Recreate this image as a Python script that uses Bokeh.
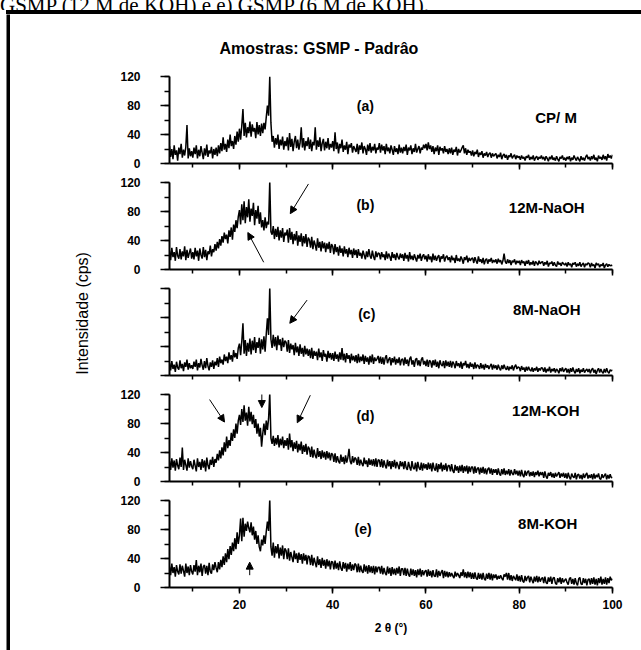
import math
from bokeh.plotting import figure
from bokeh.layouts import column, row
from bokeh.models import (Range1d, SingleIntervalTicker, Label, Arrow, NormalHead,
                          ColumnDataSource, CustomJSTickFormatter, Div)
from bokeh.embed import file_html
from bokeh.resources import INLINE

# ---------------- data (2theta grid: rows of 5 degrees, 0.25 degree step) ----------------
X_FIRST = 5.0
ROW_SPAN = 5.0
STEP = 0.25

cp_m = [
    [24,9,20,6,25,12,18,4,22,13,27,8,19,11,23,53,7,21,10,17],
    [8,22,13,25,7,19,10,24,15,6,21,11,26,9,18,14,23,7,20,12],
    [22,10,25,14,28,17,36,19,27,16,33,21,40,24,31,20,38,26,44,30],
    [48,33,52,75,38,56,36,50,42,58,37,54,44,49,35,57,40,53,38,55],
    [42,56,47,64,80,66,120,56,30,38,22,35,26,40,20,33,25,37,19,31],
    [24,36,18,42,23,34,17,30,38,21,33,19,28,50,22,35,18,31,24,36],
    [20,33,17,30,25,50,19,32,23,36,17,28,34,18,30,21,35,19,27,22],
    [31,17,43,20,29,14,27,21,33,16,25,19,30,13,26,22,28,15,24,20],
    [16,27,13,25,19,29,14,24,20,12,26,17,28,15,23,18,27,14,22,19],
    [28,15,26,18,24,13,27,17,22,14,25,19,12,24,16,21,13,26,15,22],
    [14,23,17,26,12,22,18,25,13,21,16,27,15,20,24,14,22,19,26,21],
    [27,18,29,20,25,16,24,13,22,17,25,12,23,18,21,14,24,16,20,13],
    [21,14,22,12,19,16,23,11,20,15,18,22,25,14,21,12,19,15,17,11],
    [18,10,16,13,19,9,15,12,17,8,14,11,16,9,13,15,8,14,10,12],
    [14,7,12,9,15,6,11,13,8,12,5,11,9,14,7,10,12,6,11,8],
    [10,5,11,7,9,4,10,8,12,5,9,6,11,4,8,10,5,9,7,11],
    [6,9,4,10,7,3,9,6,11,5,8,4,10,6,3,9,7,11,5,8],
    [4,9,6,10,3,8,5,11,7,4,9,6,3,10,5,8,4,9,12,6],
    [9,4,10,6,12,5,8,3,11,7,9,5,12,6,10,4,13,8,11,7],
    [12],
]

naoh_12m = [
    [26,13,30,17,24,12,31,19,15,28,14,25,18,32,13,27,16,23,29,15],
    [24,14,30,18,26,12,29,20,15,31,17,27,13,25,21,33,18,28,24,35],
    [26,38,29,42,33,46,37,51,42,48,36,54,45,58,41,62,52,68,57,73],
    [82,62,90,68,94,64,86,72,97,66,84,74,92,61,82,70,88,63,79,58],
    [68,54,72,57,66,62,122,52,48,60,42,56,45,59,40,54,44,57,38,51],
    [47,55,37,57,41,52,35,49,40,53,33,47,38,50,32,46,36,49,31,44],
    [41,30,45,28,40,34,26,43,30,38,25,39,29,37,24,36,28,38,23,35],
    [32,21,35,24,31,19,33,23,29,18,32,22,28,17,30,21,27,16,29,20],
    [27,16,28,19,23,15,26,20,14,25,17,28,19,15,26,18,13,25,17,23],
    [22,14,24,17,21,13,25,15,22,18,12,24,16,21,13,23,17,14,22,16],
    [21,12,23,15,20,11,24,14,19,13,21,16,11,20,15,22,12,18,21,14],
    [19,11,21,14,18,10,22,13,19,12,17,20,10,18,15,21,11,17,19,13],
    [17,10,19,13,16,9,20,12,15,11,18,14,8,17,13,19,10,16,12,15],
    [16,9,17,12,8,18,11,14,9,16,7,13,15,8,14,11,16,9,13,10],
    [14,8,15,10,13,7,12,22,11,8,14,9,13,6,12,10,14,7,12,9],
    [12,6,13,9,11,5,12,8,13,6,10,7,12,5,11,9,6,12,8,10],
    [11,5,10,7,12,4,9,8,11,5,10,6,4,11,7,9,5,10,8,6],
    [9,4,10,6,8,3,9,7,10,4,8,5,10,4,7,9,3,8,6,9],
    [8,3,9,5,7,2,9,6,8,3,7,5,9,2,6,8,4,7,5,6],
    [5],
]

naoh_8m = [
    [17,7,20,9,15,5,19,11,8,21,10,16,6,18,12,22,8,17,10,14],
    [9,19,12,22,7,17,11,23,14,8,20,10,24,13,7,18,12,21,9,19],
    [14,24,12,26,17,22,15,29,20,26,17,32,22,28,19,35,25,31,23,38],
    [44,28,47,72,30,49,27,45,33,51,29,48,35,53,31,46,38,52,30,50],
    [36,54,33,57,79,56,122,50,38,56,40,53,35,55,42,50,34,52,39,48],
    [46,33,49,31,44,36,42,28,45,32,40,27,43,30,38,26,41,29,37,27],
    [36,24,38,23,34,27,33,21,37,25,32,20,35,26,30,19,34,24,31,22],
    [31,20,33,23,29,19,32,22,38,21,30,18,31,23,28,17,30,21,27,19],
    [28,17,30,18,26,20,29,16,27,19,25,15,27,18,29,16,25,20,23,27],
    [17,26,16,25,15,24,28,17,22,25,14,24,18,26,15,23,17,25,14,22],
    [23,14,25,16,22,13,23,26,15,21,12,22,24,14,21,13,22,25,15,20],
    [13,22,12,21,19,11,21,14,22,12,19,10,21,15,13,20,10,21,13,19],
    [12,20,11,19,16,10,20,13,17,11,19,9,17,14,20,11,16,10,18,12],
    [16,9,18,10,15,13,9,17,10,15,8,16,11,14,9,13,16,8,15,10],
    [14,8,15,10,7,14,9,15,10,8,13,7,12,9,14,7,12,15,9,12],
    [11,6,13,8,11,5,12,7,12,8,6,11,5,10,7,12,5,10,7,11],
    [10,5,11,4,9,6,12,4,9,6,10,4,9,7,3,10,6,11,5,8],
    [10,4,9,3,10,5,11,6,3,9,5,10,3,8,5,10,4,7,9,5],
    [9,3,8,10,4,8,2,7,10,4,9,5,3,9,4,10,5,3,8,6],
    [8],
]

koh_12m = [
    [28,16,32,19,29,15,31,22,17,33,20,47,16,30,23,15,32,19,28,21],
    [17,30,22,14,32,20,27,16,31,19,29,14,33,22,17,30,23,34,20,31],
    [26,38,29,43,32,47,36,54,41,62,46,57,49,67,56,72,60,80,66,84],
    [92,78,100,82,105,84,95,77,103,83,96,79,92,74,86,66,80,62,74,48],
    [66,80,64,84,71,87,122,60,52,63,49,60,51,64,47,59,50,62,46,57],
    [49,60,44,66,47,57,42,54,45,56,40,52,43,55,38,50,41,52,37,48],
    [45,34,48,33,44,36,32,46,34,42,31,43,33,41,30,42,32,40,29,39],
    [37,27,39,26,35,28,25,37,27,34,24,36,26,33,45,28,24,35,26,33],
    [31,23,34,22,30,25,21,33,24,29,20,32,23,30,22,31,21,32,20,30],
    [29,20,31,19,29,22,18,30,21,28,17,28,20,30,18,27,22,17,28,21],
    [27,17,28,19,16,27,20,15,28,19,17,26,14,27,19,16,26,15,25,18],
    [24,16,26,17,25,14,26,18,15,25,13,24,17,26,14,23,16,25,14,22],
    [22,14,24,15,12,23,15,21,12,22,14,23,12,21,14,22,11,21,13,20],
    [20,11,21,12,18,19,10,19,12,20,11,18,10,17,19,11,18,9,17,12],
    [17,9,18,11,8,17,10,18,9,15,10,17,8,16,11,9,17,10,15,8],
    [15,7,16,9,6,15,8,13,15,7,13,8,14,6,13,9,15,7,13,9],
    [13,5,14,7,4,12,8,13,6,11,5,12,7,10,13,5,11,7,12,5],
    [11,4,12,6,3,11,7,5,12,3,9,10,4,9,3,11,5,9,12,4],
    [9,5,10,3,11,4,9,6,11,4,3,10,5,8,11,3,9,4,10,5],
    [6],
]

koh_8m = [
    [29,17,33,20,28,15,31,22,18,32,19,30,23,15,33,20,29,17,31,22],
    [18,31,22,38,17,30,21,33,16,29,31,19,30,17,34,22,19,32,24,35],
    [27,21,35,25,38,28,43,31,47,35,53,39,57,45,62,50,68,53,76,60],
    [72,95,64,96,70,88,78,91,82,76,90,72,84,66,78,60,72,56,50,66],
    [58,72,60,77,91,78,122,56,44,62,41,57,47,60,40,55,44,58,39,54],
    [51,39,54,37,49,42,35,51,39,47,34,48,38,46,33,47,37,45,32,44],
    [42,31,45,30,41,34,28,43,31,39,27,41,30,38,26,39,29,37,25,36],
    [35,25,37,26,34,24,36,27,23,35,26,34,22,33,25,35,23,32,24,33],
    [31,21,33,21,30,23,20,32,22,30,19,31,21,29,20,30,18,29,21,28],
    [28,19,30,18,27,20,17,29,19,27,16,28,18,26,17,27,19,29,16,26],
    [26,17,27,16,26,18,15,26,17,25,16,24,14,25,17,26,15,24,17,22],
    [24,15,25,16,23,14,24,16,15,25,14,23,16,21,24,13,23,15,22,14],
    [21,15,20,16,13,22,15,20,17,13,21,16,25,14,21,13,22,14,21,12],
    [20,12,21,13,11,20,12,19,11,20,12,10,19,12,20,11,19,10,18,13],
    [18,11,16,12,17,13,10,18,15,20,11,20,10,17,9,16,13,10,18,9],
    [16,8,17,9,7,16,9,14,16,7,15,10,6,15,8,16,7,15,8,12],
    [14,6,15,7,5,14,8,15,5,13,14,6,4,13,7,14,5,13,7,10],
    [12,7,4,12,14,5,12,4,13,6,3,12,14,5,4,13,6,12,3,11],
    [12,4,13,5,14,4,12,3,13,6,15,4,12,5,14,4,13,6,15,10],
    [12],
]

panel_letters = ["(a)", "(b)", "(c)", "(d)", "(e)"]
sample_names = ["CP/ M", "12M-NaOH", "8M-NaOH", "12M-KOH", "8M-KOH"]
series = [cp_m, naoh_12m, naoh_8m, koh_12m, koh_8m]
caption_text = "GSMP (12 M de KOH) e e) GSMP (6 M de KOH)."

# ---------------- styling / layout ----------------
FONT = "Liberation Sans"
PANEL_W = 541
BORDER_L = 69
BORDER_R = 29
LAB_W = 90


def expand(rows):
    xs, ys = [], []
    for r, vals in enumerate(rows):
        for j, v in enumerate(vals):
            xs.append(X_FIRST + ROW_SPAN * r + STEP * j)
            ys.append(v)
    return xs, ys


blank = CustomJSTickFormatter(code="return '';")

# (height, top border, bottom border) for each panel figure
panel_geom = [(163, 62, 14), (106, 5, 14), (106, 5, 14), (106, 5, 14), (155, 5, 63)]
show_y_labels = [True, True, False, True, True]
letter_pos = [(47.0, 80), (47.0, 89), (47.3, 85), (47.0, 90), (46.5, 81)]
name_pos = [(87.9, 63), (85.9, 86), (85.9, 91), (85.7, 98), (86.1, 88)]
arrow_sets = [
    [],
    [(34.8, 118, 30.9, 77), (25.2, 10, 21.8, 51)],
    [(34.5, 104, 30.8, 72)],
    [(13.6, 113, 16.8, 82), (24.8, 128, 24.8, 102), (35.2, 119, 32.4, 81)],
    [(22.2, 17, 22.2, 35)],
]

panels = []
for i in range(5):
    h, bt, bb = panel_geom[i]
    p = figure(width=PANEL_W, height=h, x_range=Range1d(5, 100), y_range=Range1d(0, 120),
               output_backend="svg", toolbar_location=None,
               min_border_left=BORDER_L, min_border_right=BORDER_R,
               min_border_top=bt, min_border_bottom=bb)
    p.title.visible = False
    p.outline_line_color = None
    p.grid.visible = False

    xs, ys = expand(series[i])
    src = ColumnDataSource(data=dict(x=xs, y=ys))
    p.line("x", "y", source=src, line_color="black", line_width=1.5)

    # x axis
    xa = p.xaxis[0]
    xa.ticker = SingleIntervalTicker(interval=20, num_minor_ticks=2)
    xa.axis_line_width = 2
    xa.major_tick_line_width = 1.5
    xa.minor_tick_line_width = 1.5
    xa.major_tick_in = 0
    xa.minor_tick_in = 0
    xa.major_tick_out = 6
    xa.minor_tick_out = 4
    xa.major_label_text_font = FONT
    xa.major_label_text_font_style = "bold"
    xa.major_label_text_color = "black"
    if i == 4:
        xa.major_label_text_font_size = "12px"
        xa.major_label_standoff = 6
        xa.axis_label = "2 θ (°)"
        xa.axis_label_text_font = FONT
        xa.axis_label_text_font_style = "bold"
        xa.axis_label_text_font_size = "12px"
        xa.axis_label_text_color = "black"
        xa.axis_label_standoff = 9
    else:
        xa.formatter = blank
        xa.major_label_standoff = 0

    # y axis
    ya = p.yaxis[0]
    ya.ticker = SingleIntervalTicker(interval=40, num_minor_ticks=2)
    ya.axis_line_width = 2
    ya.major_tick_line_width = 1.5
    ya.minor_tick_line_width = 1.5
    ya.major_tick_in = 0
    ya.minor_tick_in = 0
    ya.major_tick_out = 9
    ya.minor_tick_out = 5
    ya.major_label_text_font = FONT
    ya.major_label_text_font_style = "bold"
    ya.major_label_text_color = "black"
    ya.major_label_standoff = 20
    ya.major_label_text_font_size = "12px"
    if not show_y_labels[i]:
        ya.formatter = blank

    lx, ly = letter_pos[i]
    p.add_layout(Label(x=lx, y=ly, text=panel_letters[i], text_font=FONT, text_font_style="bold",
                       text_font_size="14px", text_color="black",
                       text_align="center", text_baseline="middle"))
    nx, ny = name_pos[i]
    p.add_layout(Label(x=nx, y=ny, text=sample_names[i], text_font=FONT, text_font_style="bold",
                       text_font_size="15px", text_color="black",
                       text_align="center", text_baseline="middle"))
    for (x0, y0, x1, y1) in arrow_sets[i]:
        p.add_layout(Arrow(x_start=x0, y_start=y0, x_end=x1, y_end=y1, line_width=1, line_color="black",
                           end=NormalHead(size=7, fill_color="black", line_color="black")))
    panels.append(p)

# overall title on the first panel
t = panels[0].title
t.visible = True
t.text = "Amostras: GSMP - Padrâo"
t.align = "left"
t.offset = 50
t.standoff = 40
t.text_font = FONT
t.text_font_style = "bold"
t.text_font_size = "16px"
t.text_color = "black"

TOTAL_H = sum(g[0] for g in panel_geom)

lab = figure(width=LAB_W, height=TOTAL_H, x_range=Range1d(0, 1), y_range=Range1d(0, 1),
             x_axis_type=None, y_axis_type=None, min_border=0,
             output_backend="svg", toolbar_location=None)
lab.title.visible = False
lab.outline_line_color = None
lab.add_layout(Label(x=0.8, y=0.53, text="Intensidade (cps)", angle=math.pi / 2,
                     text_font=FONT, text_font_size="16px", text_color="black",
                     text_align="center", text_baseline="middle"))

left_bar = figure(width=4, height=TOTAL_H, x_axis_type=None, y_axis_type=None, min_border=0,
                  output_backend="svg", toolbar_location=None,
                  background_fill_color="black", border_fill_color="black")
left_bar.title.visible = False
left_bar.outline_line_color = None

# thick frame line across the top of the chart box
top_bar = Div(text="", width=4 + LAB_W + PANEL_W, height=4, margin=0,
              styles={"background-color": "black"})

# document caption above the chart box (only its lower edge is in view)
caption = Div(text=caption_text, width=641, height=10, margin=0,
              styles={"overflow": "hidden"},
              stylesheets=[":host { overflow: hidden; } "
                           "div { font-family: 'Liberation Serif'; font-size: 21px; "
                           "line-height: 22px; white-space: nowrap; margin-top: -17px; color: black; }"])

framed = column(top_bar, row(left_bar, lab, column(*panels)), margin=(0, 0, 0, 6))
layout = column(caption, framed)

open("out.html", "w").write(file_html(layout, INLINE))
